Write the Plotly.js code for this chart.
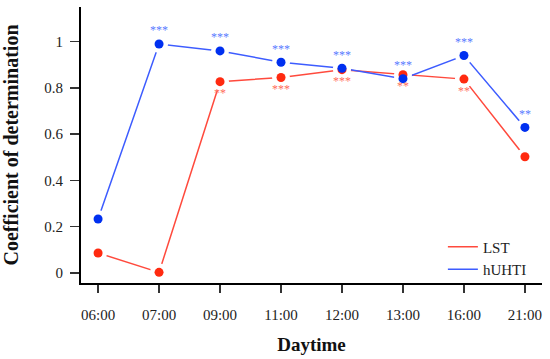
<!DOCTYPE html>
<html>
<head>
<meta charset="utf-8">
<script src="https://cdn.plot.ly/plotly-3.0.1.min.js"></script>
<style>html,body{margin:0;padding:0;background:#fff;}#chart{width:550px;height:359px;}</style>
</head>
<body>
<div id="chart"></div>
<script>
const categories = ['06:00', '07:00', '09:00', '11:00', '12:00', '13:00', '16:00', '21:00'];
const lstValues = [0.086, 0.002, 0.827, 0.845, 0.879, 0.857, 0.838, 0.502];
const uhtiValues = [0.233, 0.99, 0.96, 0.911, 0.885, 0.84, 0.94, 0.629];
const lstSig = ['', '', '**', '***', '***', '**', '**', ''];
const uhtiSig = ['', '***', '***', '***', '***', '***', '***', '**'];
const yTicks = [0, 0.2, 0.4, 0.6, 0.8, 1];

const font = 'Liberation Serif, Times New Roman, serif';
const redLine = '#ff4a3d', blueLine = '#3d5cff';
const redMark = '#ff2a10', blueMark = '#0030f0';

const traces = [
  {x: categories, y: lstValues, type: 'scatter', mode: 'lines', name: 'LST',
   line: {color: redLine, width: 1.5}},
  {x: categories, y: uhtiValues, type: 'scatter', mode: 'lines', name: 'hUHTI',
   line: {color: blueLine, width: 1.5}},
  {x: categories, y: lstValues, type: 'scatter', mode: 'markers', showlegend: false, hoverinfo: 'skip',
   marker: {color: '#fff', size: 18}},
  {x: categories, y: uhtiValues, type: 'scatter', mode: 'markers', showlegend: false, hoverinfo: 'skip',
   marker: {color: '#fff', size: 18}},
  {x: categories, y: lstValues, type: 'scatter', mode: 'markers+text', showlegend: false,
   text: lstSig, textposition: 'bottom center', textfont: {family: font, size: 12, color: '#ff6a5a'},
   marker: {color: redMark, size: 9}},
  {x: categories, y: uhtiValues, type: 'scatter', mode: 'markers+text', showlegend: false,
   text: uhtiSig, textposition: 'top center', textfont: {family: font, size: 12, color: '#5a78ff'},
   marker: {color: blueMark, size: 9}}
];

const layout = {
  width: 550, height: 359,
  margin: {l: 81, r: 8, t: 7, b: 75.5},
  paper_bgcolor: '#fff', plot_bgcolor: '#fff',
  font: {family: font, size: 15, color: '#222'},
  showlegend: true,
  legend: {x: 0.785, y: 0.19, xanchor: 'left', yanchor: 'top', bgcolor: 'rgba(0,0,0,0)',
           font: {family: font, size: 15, color: '#222'}, tracegroupgap: 0},
  xaxis: {
    type: 'category', range: [-0.28, 7.28],
    showline: true, linecolor: '#000', linewidth: 2, mirror: false,
    showgrid: false, zeroline: false,
    ticks: 'outside', ticklen: 8, tickwidth: 1.5, tickcolor: '#333',
    ticklabelstandoff: 9,
    tickfont: {family: font, size: 15, color: '#222'},
    title: {text: '<b>Daytime</b>', font: {family: font, size: 19, color: '#111'}, standoff: 16}
  },
  yaxis: {
    range: [-0.044, 1.15], tickvals: yTicks, ticktext: yTicks.map(String),
    showline: true, linecolor: '#000', linewidth: 2,
    showgrid: false, zeroline: false,
    ticks: 'outside', ticklen: 9, tickwidth: 1.5, tickcolor: '#333',
    ticklabelstandoff: 4,
    tickfont: {family: font, size: 15, color: '#222'},
    title: {text: '<b>Coefficient of determination</b>', font: {family: font, size: 20, color: '#111'}, standoff: 20}
  }
};

Plotly.newPlot('chart', traces, layout, {staticPlot: true, displayModeBar: false});
</script>
</body>
</html>
